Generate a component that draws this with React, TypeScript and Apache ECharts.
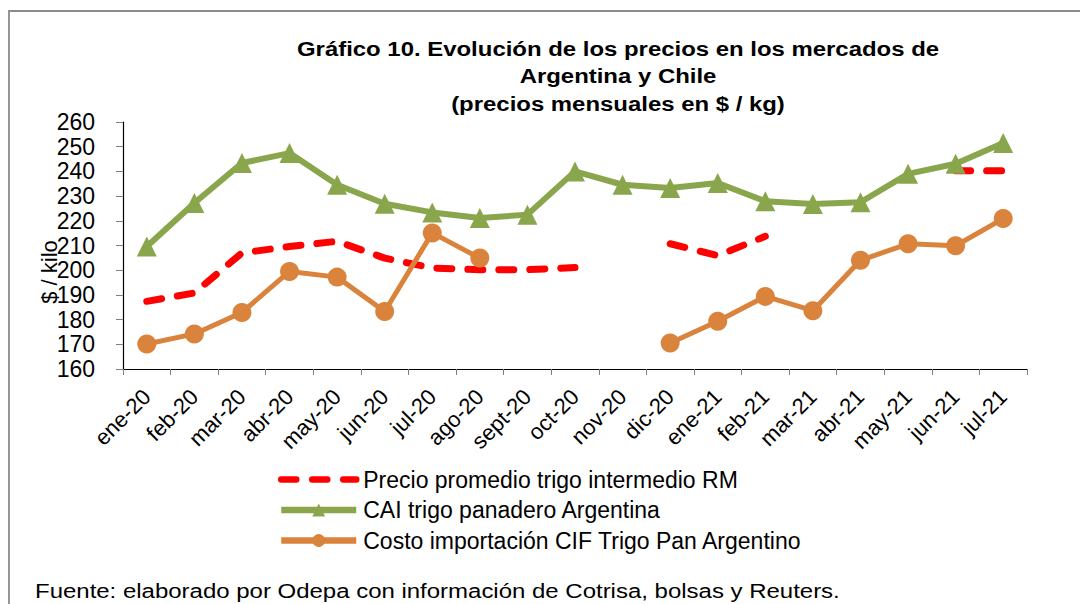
import { useEffect, useRef } from "react";
import * as echarts from "echarts";

const categories = [
  "ene-20", "feb-20", "mar-20", "abr-20", "may-20", "jun-20", "jul-20", "ago-20", "sept-20", "oct-20",
  "nov-20", "dic-20", "ene-21", "feb-21", "mar-21", "abr-21", "may-21", "jun-21", "jul-21",
];
const precioRM = [187.4, 190.8, 207, 209.6, 211.7, 204.9, 200.9, 200.2, 200.2, 201.1, null, 210.7, 205.9, 213.7, null, null, null, 240.3, 240.3];
const caiArgentina = [209.6, 227.2, 243.4, 247.4, 234.6, 226.9, 223.4, 221.1, 222.5, 240, 234.6, 233.3, 235.3, 227.9, 226.8, 227.5, 239, 243.1, 251.5];
const costoCIF = [170.1, 174.2, 182.9, 199.5, 197.2, 183.3, 215.1, 204.9, null, null, null, 170.5, 179.3, 189.4, 183.6, 204, 210.7, 209.9, 220.9];
const seriesNames = [
  "Precio promedio trigo intermedio RM",
  "CAI trigo panadero Argentina",
  "Costo importación CIF Trigo Pan Argentino",
];
const titleLines = [
  "Gráfico 10. Evolución de los precios en los mercados de",
  "Argentina y Chile",
  "(precios mensuales en $ / kg)",
];
const yName = "$ / kilo";
const sourceText = "Fuente: elaborado por Odepa con información de Cotrisa, bolsas y Reuters.";

const FONT = "'Liberation Sans', Arial, sans-serif";

export default function App() {
  const ref = useRef<HTMLDivElement>(null);
  useEffect(() => {
    if (!ref.current) return;
    const chart = echarts.init(ref.current, null, { renderer: "svg" });
    chart.setOption({
      animation: false,
      backgroundColor: "#ffffff",
      textStyle: { fontFamily: FONT },
      graphic: [
        {
          type: "rect",
          shape: { x: 9, y: 11, width: 1200, height: 800 },
          style: { fill: "none", stroke: "#8c8c8c", lineWidth: 1.8 },
          silent: true,
        },
        {
          type: "text",
          x: 618,
          y: 35,
          scaleX: 1.14,
          style: {
            text: titleLines.join("\n"),
            font: `bold 21px ${FONT}`,
            fill: "#000",
            align: "center",
            verticalAlign: "top",
            lineHeight: 27.5,
          },
        },
        {
          type: "text",
          x: 49,
          y: 272,
          rotation: Math.PI / 2,
          style: {
            text: yName,
            font: `22px ${FONT}`,
            fill: "#000",
            align: "center",
            verticalAlign: "middle",
          },
        },
        {
          type: "text",
          x: 35,
          y: 591,
          scaleX: 1.23,
          style: {
            text: sourceText,
            font: `19.5px ${FONT}`,
            fill: "#000",
            align: "left",
            verticalAlign: "middle",
          },
        },
      ],
      grid: { left: 123, right: 53, top: 122, bottom: 235, containLabel: false },
      legend: {
        orient: "vertical",
        left: 273,
        top: 463,
        itemWidth: 75,
        itemHeight: 16,
        itemGap: 7.5,
        data: [
          { name: seriesNames[0], itemStyle: { opacity: 0 } },
          { name: seriesNames[1] },
          { name: seriesNames[2] },
        ],
        lineStyle: { width: 6.5 },
        textStyle: { fontSize: 23, fontFamily: FONT, color: "#000", padding: [0, 0, 0, 2] },
      },
      xAxis: {
        type: "category",
        data: categories,
        boundaryGap: true,
        axisLine: { lineStyle: { color: "#000", width: 1.2 } },
        axisTick: { show: true, interval: 0, length: 6, inside: false, lineStyle: { color: "#808080" } },
        axisLabel: { interval: 0, rotate: 45, fontSize: 22, color: "#000", fontFamily: FONT, margin: 24 },
        splitLine: { show: false },
      },
      yAxis: {
        type: "value",
        min: 160,
        max: 260,
        interval: 10,
        axisLine: { show: true, lineStyle: { color: "#000", width: 1.2 } },
        axisTick: { show: true, length: 7, lineStyle: { color: "#808080" } },
        axisLabel: { fontSize: 23, color: "#000", fontFamily: FONT, margin: 28 },
        splitLine: { show: false },
      },
      series: [
        {
          name: seriesNames[0],
          type: "line",
          data: precioRM,
          connectNulls: false,
          symbol: "none",
          lineStyle: { color: "#ff0000", width: 7, type: [15, 16], cap: "round" },
          itemStyle: { color: "#ff0000" },
        },
        {
          name: seriesNames[1],
          type: "line",
          data: caiArgentina,
          connectNulls: false,
          symbol: "triangle",
          symbolSize: 20,
          lineStyle: { color: "#8aa64d", width: 6 },
          itemStyle: { color: "#8aa64d" },
        },
        {
          name: seriesNames[2],
          type: "line",
          data: costoCIF,
          connectNulls: false,
          symbol: "circle",
          symbolSize: 19,
          lineStyle: { color: "#da833c", width: 5 },
          itemStyle: { color: "#da833c" },
        },
      ],
    });
    return () => chart.dispose();
  }, []);
  return (
    <div
      ref={ref}
      style={{ position: "fixed", left: 0, top: 0, width: 1080, height: 604 }}
    />
  );
}
